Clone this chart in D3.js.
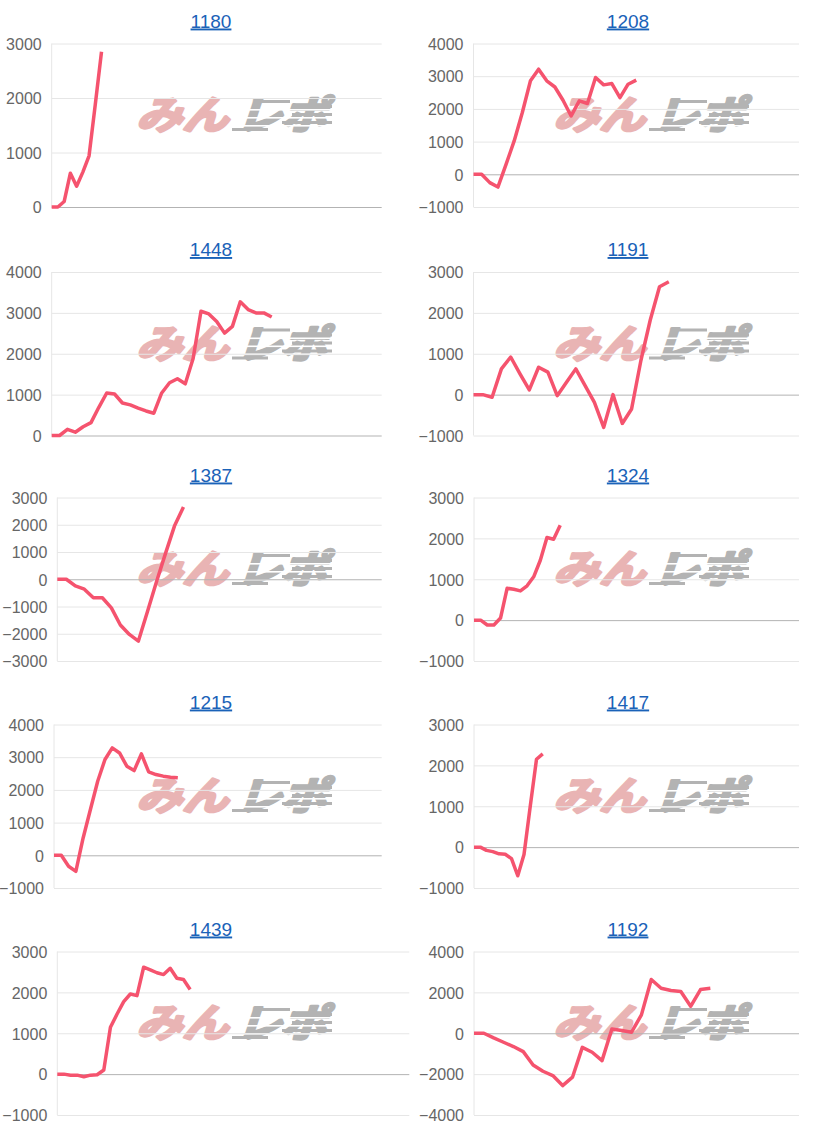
<!DOCTYPE html>
<html>
<head>
<meta charset="utf-8">
<script src="https://cdn.jsdelivr.net/npm/d3@7"></script>
<style>
    body { margin: 0; background: #fff; }
    svg { display: block; font-family: "Liberation Sans", Arial, sans-serif; }
</style>
</head>
<body>
<svg id="charts" width="829" height="1130"></svg>
<script>
// chart titles, in reading order (left, right, left, right ...)
const chartIds = ["1180", "1208", "1448", "1191", "1387", "1324", "1215", "1417", "1439", "1192"];

// cumulative values
const values1180 = [0, 0, 100, 620, 380, 640, 940, 1880, 2850];
const values1208 = [0, 0, -255, -390, 305, 1020, 1890, 2860, 3215, 2860, 2670, 2265, 1785, 2245, 2165, 2960, 2735, 2775, 2345, 2755, 2880];
const values1448 = [0, 0, 150, 80, 215, 315, 690, 1040, 1015, 795, 750, 670, 600, 545, 1040, 1290, 1390, 1265, 1885, 3040, 2975, 2790, 2505, 2670, 3270, 3080, 3000, 3000, 2900];
const values1191 = [0, 0, -65, 630, 920, 510, 115, 670, 550, -25, 300, 630, 220, -190, -800, 0, -705, -350, 835, 1820, 2640, 2760];
const values1387 = [0, 0, -245, -365, -680, -680, -1050, -1680, -2025, -2270, -1195, -100, 940, 1950, 2650];
const values1324 = [0, 0, -120, -120, 50, 780, 755, 715, 840, 1060, 1465, 2020, 1980, 2320];
const values1215 = [0, 0, -335, -490, 530, 1400, 2265, 2930, 3285, 3130, 2725, 2590, 3100, 2550, 2470, 2420, 2390, 2370];
const values1417 = [0, 0, -80, -110, -165, -175, -280, -700, -180, 1000, 2150, 2280];
const values1439 = [0, 0, -25, -25, -65, -25, -15, 100, 1145, 1470, 1775, 1960, 1920, 2615, 2550, 2480, 2435, 2590, 2345, 2315, 2070];
const values1192 = [0, 0, -230, -440, -650, -900, -1550, -1860, -2070, -2560, -2150, -690, -930, -1340, 210, 130, 50, 900, 2630, 2200, 2090, 2040, 1320, 2140, 2200];

const allValues = [values1180, values1208, values1448, values1191, values1387,
                   values1324, values1215, values1417, values1439, values1192];

// number of x categories on each chart (data only fills the first part)
const labelCounts = [54, 41, 43, 36, 37, 50, 46, 53, 54, 34];

// y axis range and tick step per chart
const yMins  = [0, -1000, 0, -1000, -3000, -1000, -1000, -1000, -1000, -4000];
const yMaxs  = [3000, 4000, 4000, 3000, 3000, 3000, 4000, 3000, 3000, 4000];
const ySteps = [1000, 1000, 1000, 1000, 1000, 1000, 1000, 1000, 1000, 2000];

const svg = d3.select("#charts");

// layout
const rowTops = [43.5, 272, 497.5, 724.5, 951.5];
const plotH = 163.5;
const plotLefts = [51.7, 473.5, 51.7, 473.5, 57.3, 474, 54, 474, 57.3, 474];
const plotRights = [381.7, 799, 381.7, 799, 381.7, 799, 381.7, 799, 409.3, 799];
const titleX = [211, 628];
const logoX = [132, 549];

const lineColor = "#f5536e";
const gridColor = "#e6e6e6";
const zeroColor = "#b3b3b3";
const pink = "#e9b4b4";
const grey = "#b3b3b3";

function drawLogo(g, x, y) {
    const logo = g.append("g").attr("transform", `translate(${x},${y})`);

    logo.append("text")
        .attr("transform", "translate(4,32) scale(1.18,1) skewX(-16)")
        .attr("font-family", "Noto Sans CJK JP")
        .attr("font-weight", "bold")
        .attr("font-size", 39)
        .attr("fill", pink)
        .attr("stroke", pink)
        .attr("stroke-width", 2.8)
        .attr("stroke-linejoin", "round")
        .text("みん");

    const gr = logo.append("g");
    gr.append("text")
        .attr("transform", "translate(104,32) scale(1.16,1) skewX(-16)")
        .attr("font-family", "Noto Sans CJK JP")
        .attr("font-weight", "bold")
        .attr("font-size", 39)
        .attr("fill", grey)
        .attr("stroke", grey)
        .attr("stroke-width", 2.8)
        .attr("stroke-linejoin", "round")
        .text("レポ");

    // speed streaks trailing the grey part
    [[3, 122, 36], [8, 166, 34], [16, 160, 40], [24, 150, 50], [31, 100, 36]].forEach(([dy, x0, w]) => {
        gr.append("rect")
            .attr("x", x0).attr("y", dy)
            .attr("width", w).attr("height", 3)
            .attr("fill", grey);
    });
    [12, 20, 28].forEach(dy => {
        gr.append("rect")
            .attr("x", 100).attr("y", dy)
            .attr("width", 104).attr("height", 1.6)
            .attr("fill", "#fff");
    });
}

chartIds.forEach((id, k) => {
    const col = k % 2;
    const row = Math.floor(k / 2);
    const top = rowTops[row];
    const left = plotLefts[k];
    const right = plotRights[k];
    const values = allValues[k];

    const g = svg.append("g").attr("class", "panel");

    const x = d3.scalePoint()
        .domain(d3.range(labelCounts[k]))
        .range([left, right]);

    const y = d3.scaleLinear()
        .domain([yMins[k], yMaxs[k]])
        .range([top + plotH, top]);

    const ticks = d3.range(yMins[k], yMaxs[k] + 1, ySteps[k]);

    // title
    g.append("text")
        .attr("x", titleX[col])
        .attr("y", top - 16)
        .attr("text-anchor", "middle")
        .attr("font-size", 19)
        .attr("fill", "#1a62b8")
        .style("text-decoration", "underline")
        .text(id);

    // watermark
    drawLogo(g, logoX[col], top + 53.5);

    // grid
    const grid = g.append("g")
        .attr("transform", `translate(${left},0)`)
        .call(d3.axisLeft(y).tickValues(ticks).tickSize(-(right - left)).tickFormat(""));
    grid.select(".domain").remove();
    grid.selectAll("line")
        .attr("stroke", d => d === 0 ? zeroColor : gridColor);

    // left axis line
    g.append("line")
        .attr("x1", left).attr("x2", left)
        .attr("y1", top).attr("y2", top + plotH)
        .attr("stroke", gridColor);

    // tick labels
    const axis = g.append("g")
        .attr("transform", `translate(${left},0)`)
        .call(d3.axisLeft(y).tickValues(ticks).tickSize(0).tickPadding(10).tickFormat(d3.format("d")));
    axis.select(".domain").remove();
    axis.selectAll("text")
        .attr("dy", "0.36em")
        .attr("font-family", "'Liberation Sans', Arial, sans-serif")
        .attr("font-size", 16)
        .attr("fill", "#666");

    // series
    const line = d3.line()
        .x((d, i) => x(i))
        .y(d => y(d));

    g.append("path")
        .datum(values)
        .attr("d", line)
        .attr("fill", "none")
        .attr("stroke", lineColor)
        .attr("stroke-width", 3.5)
        .attr("stroke-linejoin", "round");
});
</script>
</body>
</html>
